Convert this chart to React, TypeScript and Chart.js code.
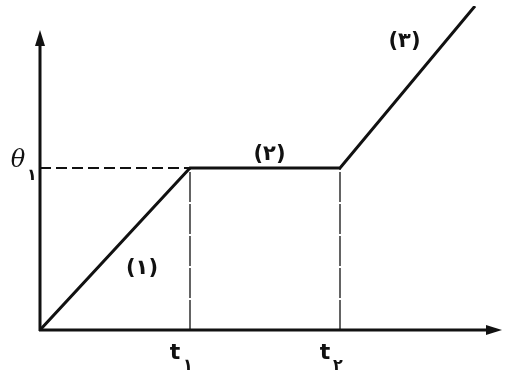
import React, { useEffect, useRef } from "react";
import { Chart, registerables } from "chart.js";

Chart.register(...registerables);

// Path of the graph (time in units of t, temperature in units of θ1)
const pathTimes = [0, 1, 2, 2.9];
const pathTemps = [0, 1, 1, 2];
// Guide lines
const guideTimes = [1, 2];
const guideTemp = 1;
// Labels
const segmentLabels = ["(۱)", "(۲)", "(۳)"];
const tickLabelsX = ["t", "t"];
const tickSubsX = ["۱", "۲"];
const yLabel = "θ";
const ySub = "۱";

const axesPlugin = {
  id: "axesPlugin",
  afterDatasetsDraw(chart: any) {
    const { ctx, scales } = chart;
    const xs = scales.x;
    const ys = scales.y;
    const x0 = xs.getPixelForValue(0);
    const y0 = ys.getPixelForValue(0);
    ctx.save();
    ctx.strokeStyle = "#111";
    ctx.fillStyle = "#111";
    ctx.lineWidth = 3;
    // y axis
    const yTop = 30;
    ctx.beginPath();
    ctx.moveTo(x0, y0 + 1);
    ctx.lineTo(x0, yTop + 8);
    ctx.stroke();
    ctx.beginPath();
    ctx.moveTo(x0, yTop);
    ctx.lineTo(x0 - 5, yTop + 16);
    ctx.lineTo(x0 + 5, yTop + 16);
    ctx.closePath();
    ctx.fill();
    // x axis
    const xRight = 502;
    ctx.beginPath();
    ctx.moveTo(x0 - 1, y0);
    ctx.lineTo(xRight - 8, y0);
    ctx.stroke();
    ctx.beginPath();
    ctx.moveTo(xRight, y0);
    ctx.lineTo(xRight - 16, y0 - 5);
    ctx.lineTo(xRight - 16, y0 + 5);
    ctx.closePath();
    ctx.fill();

    // Segment labels
    ctx.font = "bold 21px 'DejaVu Sans', sans-serif";
    ctx.textAlign = "center";
    ctx.textBaseline = "middle";
    const p1 = { x: xs.getPixelForValue(0.68), y: ys.getPixelForValue(0.38) };
    const p2 = { x: xs.getPixelForValue(1.53), y: ys.getPixelForValue(1.08) };
    const p3 = { x: xs.getPixelForValue(2.43), y: ys.getPixelForValue(1.78) };
    ctx.fillText(segmentLabels[0], p1.x, p1.y);
    ctx.fillText(segmentLabels[1], p2.x, p2.y);
    ctx.fillText(segmentLabels[2], p3.x, p3.y);

    // x tick labels
    guideTimes.forEach((t, i) => {
      const px = xs.getPixelForValue(t);
      ctx.font = "bold 22px 'DejaVu Sans', sans-serif";
      ctx.textAlign = "center";
      ctx.fillText(tickLabelsX[i], px - 15, y0 + 23);
      ctx.font = "bold 16px 'DejaVu Sans', sans-serif";
      ctx.fillText(tickSubsX[i], px - 2, y0 + 36);
    });

    // y label
    const py = ys.getPixelForValue(guideTemp);
    ctx.font = "italic 24px 'DejaVu Serif', serif";
    ctx.textAlign = "center";
    ctx.fillText(yLabel, x0 - 22, py - 7);
    ctx.font = "bold 16px 'DejaVu Sans', sans-serif";
    ctx.fillText(ySub, x0 - 8, py + 8);
    ctx.restore();
  },
};

export default function App() {
  const ref = useRef<HTMLCanvasElement>(null);
  useEffect(() => {
    document.body.style.margin = "0";
    const path = pathTimes.map((t, i) => ({ x: t, y: pathTemps[i] }));
    const dashed = [
      { x: 0, y: guideTemp },
      { x: guideTimes[0], y: guideTemp },
    ];
    const verticals = guideTimes.map((t) => [
      { x: t, y: 0 },
      { x: t, y: guideTemp },
    ]);
    const chart = new Chart(ref.current!, {
      type: "line",
      data: {
        datasets: [
          {
            data: dashed,
            borderColor: "#111",
            borderWidth: 2,
            borderDash: [11, 5],
            pointRadius: 0,
          },
          ...verticals.map((v) => ({
            data: v,
            borderColor: "#111",
            borderWidth: 1.3,
            borderDash: [30, 2],
            pointRadius: 0,
          })),
          {
            data: path,
            borderColor: "#111",
            borderWidth: 3,
            pointRadius: 0,
            tension: 0,
          },
        ],
      },
      options: {
        animation: false,
        responsive: false,
        maintainAspectRatio: false,
        layout: { padding: { left: 40, right: 17, top: 6, bottom: 45 } },
        plugins: { legend: { display: false }, tooltip: { enabled: false } },
        scales: {
          x: { type: "linear", min: 0, max: 3, display: false },
          y: { type: "linear", min: 0, max: 2, display: false },
        },
        elements: { line: { borderCapStyle: "butt" } },
      },
      plugins: [axesPlugin],
    } as any);
    return () => chart.destroy();
  }, []);
  return (
    <div style={{ width: 507, height: 375, background: "#fff" }}>
      <canvas ref={ref} width={507} height={375} style={{ display: "block" }} />
    </div>
  );
}
